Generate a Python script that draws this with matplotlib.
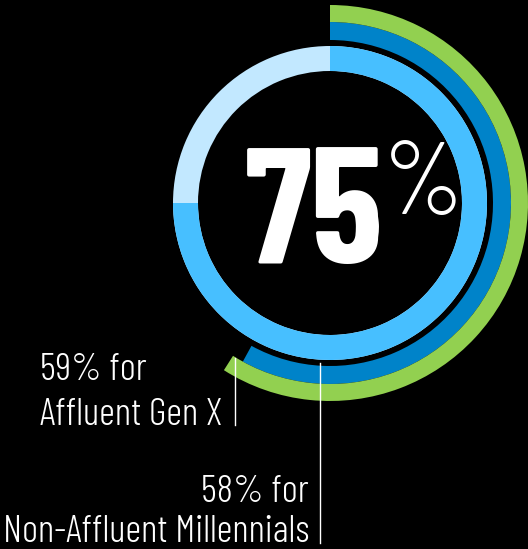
import matplotlib
matplotlib.use("Agg")
import matplotlib.pyplot as plt
from matplotlib.patches import Wedge

# Share of respondents (percent)
ring_labels = ["Overall", "Non-Affluent Millennials", "Affluent Gen X"]
ring_values = [75, 58, 59]
headline = "75"
label_gen_x = ["59% for", "Affluent Gen X"]
label_millennials = ["58% for", "Non-Affluent Millennials"]

W, H = 528, 549
fig = plt.figure(figsize=(W / 100, H / 100), dpi=100, facecolor="black")
ax = fig.add_axes([0, 0, 1, 1])
ax.set_xlim(0, W)
ax.set_ylim(0, H)
ax.set_facecolor("black")
ax.axis("off")

font = ["Barlow Condensed", "Roboto Condensed", "Roboto", "DejaVu Sans"]

cx, cy = 330, H - 203

def arc(value, r_out, width, color, z=2):
    # clockwise from 12 o'clock
    ax.add_patch(Wedge((cx, cy), r_out, 90 - 360 * value / 100, 90,
                       width=width, facecolor=color, edgecolor="none", zorder=z))

# inner ring: background + main value
ax.add_patch(Wedge((cx, cy), 157, 0, 360, width=25, facecolor="#c2e8ff",
                   edgecolor="none", zorder=1))
arc(ring_values[0], 157, 25, "#47bfff")
# outer rings
arc(ring_values[1], 181, 18, "#0083c9")
arc(ring_values[2], 198, 17, "#92d050")

# leader lines
ax.plot([320, 320], [H - 363, H - 543], color="white", lw=1, zorder=5)
ax.plot([235, 235], [H - 358, H - 425], color="white", lw=1, zorder=5)

# big number
ax.text(245, H - 263, headline, color="white", fontsize=118, fontweight=700,
        family=font, ha="left", va="baseline")
ax.text(383, H - 142, "%", color="white", fontsize=74, fontweight=300,
        family=font, ha="left", va="top")

lab = dict(color="white", fontsize=28, fontweight=300, family=font, va="baseline")
ax.text(40, H - 380, label_gen_x[0], ha="left", **lab)
ax.text(40, H - 425, label_gen_x[1], ha="left", **lab)
ax.text(309, H - 502, label_millennials[0], ha="right", **lab)
ax.text(309, H - 542, label_millennials[1], ha="right", **lab)

fig.savefig("out.png", dpi=100, facecolor="black")
